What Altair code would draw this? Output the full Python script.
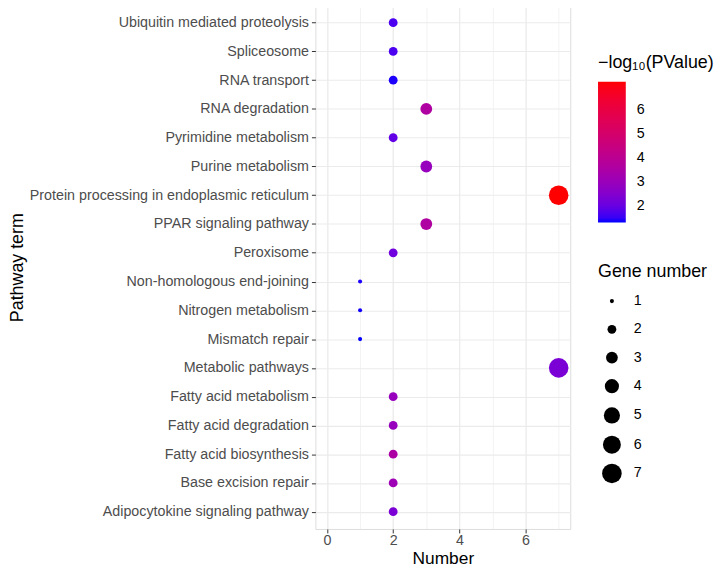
import altair as alt
import pandas as pd

pathways = [
    "Ubiquitin mediated proteolysis", "Spliceosome", "RNA transport", "RNA degradation",
    "Pyrimidine metabolism", "Purine metabolism", "Protein processing in endoplasmic reticulum",
    "PPAR signaling pathway", "Peroxisome", "Non-homologous end-joining", "Nitrogen metabolism",
    "Mismatch repair", "Metabolic pathways", "Fatty acid metabolism", "Fatty acid degradation",
    "Fatty acid biosynthesis", "Base excision repair", "Adipocytokine signaling pathway",
]
numbers = [2, 2, 2, 3, 2, 3, 7, 3, 2, 1, 1, 1, 7, 2, 2, 2, 2, 2]
neglogp = [1.65, 1.65, 1.35, 3.6, 1.9, 2.9, 7.17, 3.6, 2.1, 1.35, 1.32, 1.29, 2.3, 2.9, 2.9, 3.5, 3.1, 2.3]

df = pd.DataFrame({"Pathway": pathways, "Number": numbers, "P": neglogp})

FONT = "Liberation Sans"
W, H = 257, 528
LX = 285

xscale = alt.Scale(domain=[-0.35, 7.35], nice=False, zero=False)
base = alt.Chart(df)

grid_minor = base.mark_point(opacity=0).encode(
    x=alt.X("Number:Q", scale=xscale,
            axis=alt.Axis(orient="bottom", values=[0, 1, 2, 3, 4, 5, 6, 7], grid=True,
                          gridColor="#ebebeb", gridWidth=0.6, labels=False, ticks=False,
                          domain=False, title=None)),
)

points = base.mark_circle(opacity=1).encode(
    x=alt.X("Number:Q", scale=xscale,
            axis=alt.Axis(orient="bottom", values=[0, 2, 4, 6], grid=True, gridColor="#ebebeb",
                          gridWidth=1.1, title="Number", titleFontSize=17.5,
                          titleFontWeight="normal", titleColor="black", labelFontSize=14.4,
                          labelColor="#4d4d4d", tickColor="#333333", tickSize=4,
                          labelPadding=1, titlePadding=2, domain=False)),
    y=alt.Y("Pathway:N", sort=pathways[::-1],
            scale=alt.Scale(type="point", padding=0.6, reverse=True),
            axis=alt.Axis(grid=True, gridColor="#ebebeb", gridWidth=1.1,
                          title="Pathway term", titleFontSize=18, titleFontWeight="normal",
                          titleColor="black", labelFontSize=14.4, labelColor="#4d4d4d",
                          labelLimit=0, tickColor="#333333", tickSize=4, labelPadding=3,
                          titleX=-300, titleY=H / 2, titleAngle=270, titleAlign="center",
                          titleBaseline="middle", domain=False)),
    color=alt.Color("P:Q",
                    scale=alt.Scale(range=["blue", "red"], interpolate="lab", zero=False, nice=False),
                    legend=alt.Legend(title="−log₁₀(PValue)", orient="none", legendX=LX, legendY=49,
                                      gradientLength=142, gradientThickness=28,
                                      values=[2, 3, 4, 5, 6],
                                      titleFontSize=18, titleFontWeight="normal", titleColor="black",
                                      titlePadding=10, labelFontSize=14.4, labelColor="black",
                                      labelOffset=11, gradientStrokeWidth=0)),
    size=alt.Size("Number:Q",
                  scale=alt.Scale(domain=[1, 7], range=[17, 390], zero=False, nice=False),
                  legend=alt.Legend(title="Gene number", orient="none", legendX=LX, legendY=260,
                                    values=[1, 2, 3, 4, 5, 6, 7], symbolFillColor="black",
                                    symbolStrokeWidth=0, symbolType="circle", gridAlign="all",
                                    symbolOffset=4,
                                    titleFontSize=18, titleFontWeight="normal", titleColor="black",
                                    titlePadding=13, labelFontSize=14.4, labelColor="black",
                                    labelOffset=12, rowPadding=7.5)),
)

chart = alt.layer(grid_minor, points).resolve_axis(x="independent").properties(
    width=W, height=H, padding={"top": -5, "left": 1, "right": 5, "bottom": -1}
).configure_view(stroke="#333333", strokeWidth=1.2).configure(font=FONT)

chart.save("out.html", embed_options={"renderer": "svg", "actions": False})
